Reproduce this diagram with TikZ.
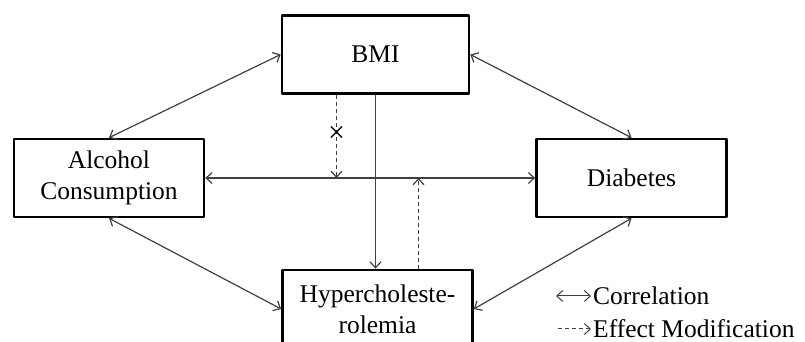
\documentclass[tikz,border=0pt]{standalone}
\usepackage{fontspec}
\setmainfont{Liberation Serif}
\usetikzlibrary{arrows.meta,positioning}
\begin{document}
\begin{tikzpicture}[x=1pt,y=1pt,line join=round,
  font=\fontsize{25.5}{31}\selectfont,
  box/.style={draw,line width=2.6pt,minimum width=190pt,minimum height=78pt,inner sep=0pt,align=center},
  corr/.style={draw=black!75,line width=1.2pt,{Straight Barb[length=6pt,width=11pt]}-{Straight Barb[length=6pt,width=11pt]}},
  cause/.style={draw=black!75,line width=1.2pt,-{Straight Barb[length=6pt,width=11pt]}},
  effmod/.style={cause,dash pattern=on 4pt off 3pt}]
\def \bmix{-39};
\def \hypx{41};
\useasboundingbox (0,0) rectangle (805,342);
\clip (0,0) rectangle (805,342);
\node[box,minimum width=187pt] (bmi) at (375.5,287.5) {BMI};
\node[box] (alc) at (109,164) {Alcohol\\Consumption};
\node[box] (dia) at (631.5,164) {Diabetes};
\node[box] (hyp) at (377.5,33) {Hypercholeste-\\rolemia};
% correlations
\foreach \a/\b in {alc.north/bmi.west,bmi.east/dia.north,alc.south/hyp.west,dia.south/hyp.east,alc.east/dia.west}{\draw[corr] (\a) -- (\b);}
\draw[cause] (bmi.south) -- (bmi.south |- hyp.north);
% effect modification
\coordinate (emtop) at ([xshift=\bmix]bmi.south |- alc.east);
\coordinate (embot) at ([xshift=\hypx]hyp.north |- alc.east);
\draw[effmod] ([xshift=\bmix]bmi.south) -- node[pos=0.48,inner sep=0pt,font=\fontsize{30}{30}\selectfont]{×} (emtop);
\draw[effmod] ([xshift=\hypx]hyp.north) -- (embot);
% legend
\node[anchor=west,inner sep=0pt] (lcorr) at (593,46) {Correlation};
\node[anchor=west,inner sep=0pt] (leff) at (593,13) {Effect Modification};
\coordinate (lc) at ([xshift=-37]lcorr.west);
\coordinate (le) at ([xshift=-35]leff.west);
\draw[corr,line width=1pt] (lc) -- ([xshift=-2]lcorr.west);
\draw[effmod,line width=1pt] (le) -- ([xshift=-2]leff.west);
\end{tikzpicture}
\end{document}
